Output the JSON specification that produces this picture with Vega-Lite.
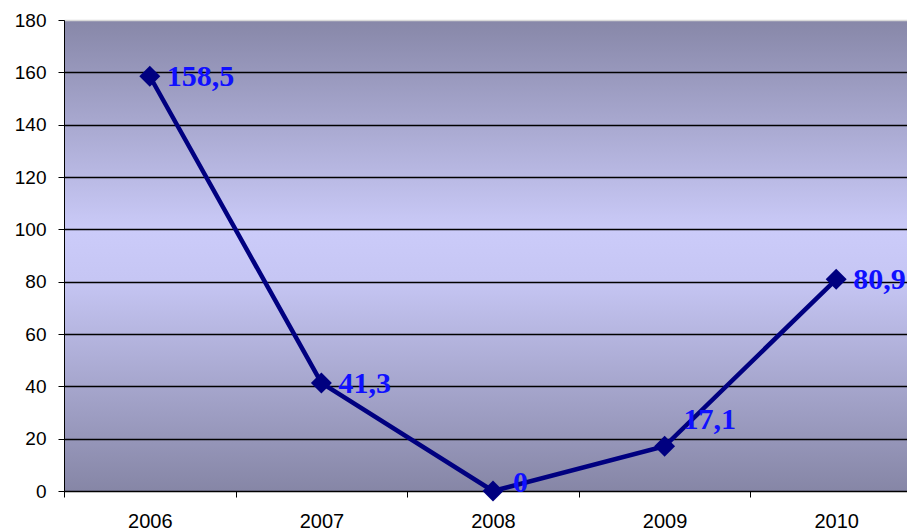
{
  "$schema": "https://vega.github.io/schema/vega-lite/v6.json",
  "width": 858,
  "height": 471,
  "autosize": {"type": "none"},
  "padding": {"left": 64, "top": 20, "right": 0, "bottom": 40},
  "background": "white",
  "config": {
    "locale": {"number": {"decimal": ",", "thousands": " ", "grouping": [3], "currency": ["", ""]}},
    "view": {
      "stroke": null,
      "fill": {
        "gradient": "linear",
        "x1": 0, "y1": 0, "x2": 0, "y2": 1,
        "stops": [
          {"offset": 0, "color": "#8787a8"},
          {"offset": 0.45, "color": "#cbcbf9"},
          {"offset": 0.55, "color": "#c6c6f4"},
          {"offset": 1, "color": "#8686a6"}
        ]
      }
    }
  },
  "data": {
    "values": [
      {"year": "2006", "value": 158.5},
      {"year": "2007", "value": 41.3},
      {"year": "2008", "value": 0},
      {"year": "2009", "value": 17.1},
      {"year": "2010", "value": 80.9}
    ]
  },
  "encoding": {
    "x": {
      "field": "year", "type": "ordinal",
      "scale": {"type": "band", "paddingInner": 0, "paddingOuter": 0},
      "axis": {
        "title": null, "labelAngle": 0, "tickBand": "extent",
        "domainColor": "black", "tickColor": "black", "tickSize": 6,
        "labelFont": "Liberation Sans", "labelFontSize": 20, "labelColor": "black",
        "labelPadding": 14, "grid": false
      }
    },
    "y": {
      "field": "value", "type": "quantitative",
      "scale": {"domain": [0, 180], "nice": false},
      "axis": {
        "title": null, "values": [0, 20, 40, 60, 80, 100, 120, 140, 160, 180],
        "domainColor": "black", "tickColor": "black", "tickSize": 6,
        "labelFont": "Liberation Sans", "labelFontSize": 19, "labelColor": "black",
        "labelPadding": 12,
        "grid": true,
        "gridColor": {"condition": {"test": "datum.value == 180", "value": "#d8d8d8"}, "value": "black"},
        "gridWidth": 1.5
      }
    }
  },
  "layer": [
    {"mark": {"type": "line", "color": "#000080", "strokeWidth": 4.5}},
    {"mark": {"type": "point", "shape": "diamond", "filled": true, "opacity": 1, "color": "#000080", "size": 440}},
    {
      "transform": [{"filter": "datum.year != '2009' && datum.year != '2008'"}],
      "mark": {"type": "text", "align": "left", "baseline": "middle", "dx": 17, "dy": 1, "font": "Liberation Serif", "fontWeight": "bold", "fontSize": 30, "color": "#1010ff"},
      "encoding": {"text": {"field": "value", "type": "quantitative", "format": "~f"}}
    },
    {
      "transform": [{"filter": "datum.year == '2008'"}],
      "mark": {"type": "text", "align": "left", "baseline": "middle", "dx": 20, "dy": -8, "font": "Liberation Serif", "fontWeight": "bold", "fontSize": 30, "color": "#1010ff"},
      "encoding": {"text": {"field": "value", "type": "quantitative", "format": "~f"}}
    },
    {
      "transform": [{"filter": "datum.year == '2009'"}],
      "mark": {"type": "text", "align": "left", "baseline": "middle", "dx": 19, "dy": -26, "font": "Liberation Serif", "fontWeight": "bold", "fontSize": 30, "color": "#1010ff"},
      "encoding": {"text": {"field": "value", "type": "quantitative", "format": "~f"}}
    }
  ]
}
